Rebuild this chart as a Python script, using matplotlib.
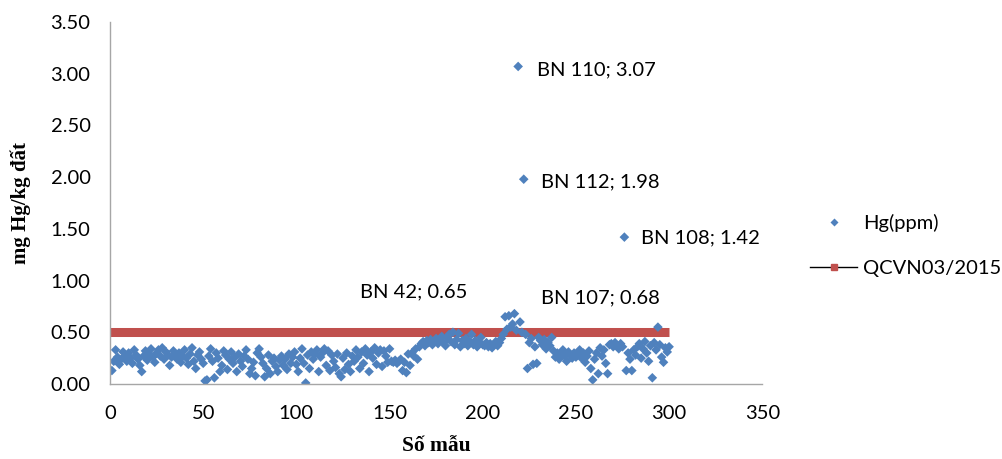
import numpy as np
import matplotlib.pyplot as plt
from matplotlib.lines import Line2D

# Hg content per sample (mg/kg)
sample_no = np.arange(1, 301)
hg_ppm = [
    0.13, 0.22, 0.33, 0.26, 0.19, 0.24, 0.31, 0.27, 0.22, 0.30,
    0.25, 0.20, 0.33, 0.28, 0.24, 0.18, 0.12, 0.27, 0.32, 0.23,
    0.29, 0.34, 0.26, 0.21, 0.30, 0.33, 0.27, 0.35, 0.24, 0.31,
    0.28, 0.18, 0.26, 0.32, 0.29, 0.24, 0.30, 0.21, 0.27, 0.33,
    0.25, 0.19, 0.29, 0.35, 0.22, 0.15, 0.28, 0.31, 0.24, 0.20,
    0.03, 0.04, 0.27, 0.34, 0.22, 0.06, 0.30, 0.25, 0.12, 0.18,
    0.32, 0.28, 0.14, 0.24, 0.31, 0.20, 0.26, 0.12, 0.29, 0.22,
    0.17, 0.27, 0.33, 0.24, 0.10, 0.15, 0.21, 0.08, 0.30, 0.34,
    0.26, 0.20, 0.07, 0.15, 0.28, 0.10, 0.22, 0.25, 0.17, 0.12,
    0.23, 0.27, 0.18, 0.24, 0.14, 0.29, 0.20, 0.26, 0.31, 0.19,
    0.12, 0.25, 0.34, 0.20, 0.01, 0.28, 0.15, 0.31, 0.24, 0.29,
    0.33, 0.12, 0.26, 0.30, 0.34, 0.18, 0.32, 0.13, 0.28, 0.22,
    0.16, 0.29, 0.10, 0.07, 0.25, 0.14, 0.30, 0.19, 0.12, 0.27,
    0.22, 0.33, 0.26, 0.15, 0.31, 0.20, 0.34, 0.28, 0.12, 0.31,
    0.25, 0.35, 0.19, 0.30, 0.33, 0.17, 0.32, 0.27, 0.21, 0.34,
    0.22, 0.21, 0.23, 0.20, 0.22, 0.24, 0.13, 0.21, 0.11, 0.29,
    0.18, 0.30, 0.27, 0.34, 0.24, 0.36, 0.39, 0.41, 0.37, 0.42,
    0.40, 0.43, 0.38, 0.41, 0.44, 0.39, 0.42, 0.46, 0.40, 0.37,
    0.45, 0.48, 0.41, 0.50, 0.38, 0.43, 0.49, 0.36, 0.42, 0.39,
    0.44, 0.37, 0.41, 0.48, 0.38, 0.42, 0.36, 0.40, 0.45, 0.38,
    0.37, 0.40, 0.36, 0.39, 0.35, 0.38, 0.41, 0.37, 0.40, 0.44,
    0.48, 0.65, 0.53, 0.66, 0.55, 0.58, 0.68, 0.52, 3.07, 0.60,
    0.50, 1.98, 0.48, 0.15, 0.40, 0.44, 0.19, 0.36, 0.20, 0.45,
    0.42, 0.38, 0.43, 0.34, 0.40, 0.37, 0.45, 0.32, 0.26, 0.30,
    0.24, 0.29, 0.33, 0.27, 0.22, 0.31, 0.28, 0.25, 0.30, 0.26,
    0.28, 0.33, 0.25, 0.30, 0.21, 0.27, 0.32, 0.15, 0.04, 0.24,
    0.30, 0.10, 0.35, 0.27, 0.33, 0.20, 0.10, 0.38, 0.39, 0.36,
    0.40, 0.37, 0.34, 0.39, 0.36, 1.42, 0.13, 0.30, 0.24, 0.13,
    0.33, 0.28, 0.36, 0.39, 0.25, 0.34, 0.41, 0.30, 0.22, 0.37,
    0.06, 0.40, 0.33, 0.55, 0.38, 0.26, 0.21, 0.35, 0.31, 0.36,
]

# QCVN 03/2015 limit
qcvn_x = [0, 300]
qcvn_y = [0.5, 0.5]

# labelled samples: text, label position
notes = ["BN 110; 3.07", "BN 112; 1.98", "BN 108; 1.42", "BN 42; 0.65", "BN 107; 0.68"]
note_x = [229, 231.5, 285, 134, 231]
note_y = [3.04, 1.95, 1.41, 0.89, 0.83]

blue = '#4F81BD'
red = '#C0504D'
tick_font = 'Lato'
fs = 14.5

fig = plt.figure(figsize=(10.03, 4.59), dpi=100)
ax = fig.add_axes([0.1097, 0.1634, 0.6503, 0.7887])

ax.plot(qcvn_x, qcvn_y, color=red, lw=6.5, solid_capstyle='butt', zorder=1)
ax.scatter(sample_no, hg_ppm, marker='D', s=24, color=blue, edgecolors='none', zorder=2)

for t, x, y in zip(notes, note_x, note_y):
    ax.text(x, y, t, fontsize=fs, family=tick_font, va='center', ha='left')

ax.set_xlim(0, 350)
ax.set_ylim(0, 3.5)
ax.set_xticks(np.arange(0, 351, 50))
ax.set_yticks(np.arange(0, 3.51, 0.5))
ax.set_yticklabels(['{:.2f}'.format(v) for v in np.arange(0, 3.51, 0.5)])
for lab in ax.get_xticklabels() + ax.get_yticklabels():
    lab.set_family(tick_font)
    lab.set_fontsize(fs)
ax.tick_params(axis='both', length=0)
ax.tick_params(axis='y', pad=14)
ax.tick_params(axis='x', pad=15)

for s in ('top', 'right'):
    ax.spines[s].set_visible(False)
for s in ('left', 'bottom'):
    ax.spines[s].set_color('#A6A6A6')
    ax.spines[s].set_linewidth(1)

ax.set_xlabel('Số mẫu', family='Liberation Serif', fontweight='bold', fontsize=15.5, labelpad=10)
ax.set_ylabel('mg Hg/kg đất', family='Liberation Serif', fontweight='bold', fontsize=15, labelpad=14)

handles = [
    Line2D([], [], ls='none', marker='D', ms=4, color=blue, mec='none'),
    Line2D([], [], color='black', lw=1, marker='s', ms=5, mfc=red, mec=red),
]
fig.legend(handles, ['Hg(ppm)', 'QCVN03/2015'], loc='center left',
           bbox_to_anchor=(0.808, 0.465), frameon=False, handlelength=2.3,
           handletextpad=0.3, labelspacing=1.35, borderaxespad=0, borderpad=0,
           prop={'family': tick_font, 'size': fs})

fig.savefig('out.png', dpi=100)
